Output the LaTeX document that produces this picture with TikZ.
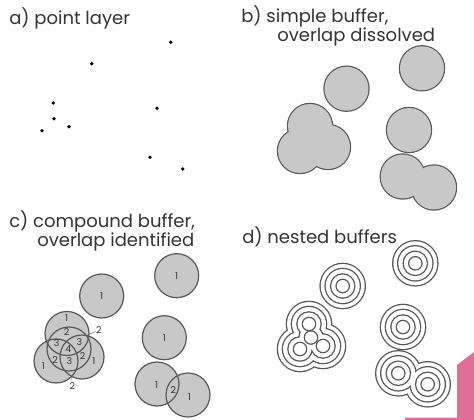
\documentclass[tikz,border=0pt]{standalone}
\usepackage{fontspec}
\setmainfont{Poppins}
\usetikzlibrary{positioning}

\definecolor{bufgray}{RGB}{200,200,200}
\definecolor{bufline}{RGB}{88,88,88}
\definecolor{cornerpink}{RGB}{222,112,152}

\def\ptsA{170.7/42.3, 91.7/63.7, 53.3/103, 54/118.7, 69/126.7, 42/130.7, 157/108.3, 150/157.3, 182.7/169}
\def\ptsB{422/68.3, 346.5/88.7, 409/130, 402.7/176.5, 434/187.5, 310/126, 312/139.5, 300/151, 328/147}
\def\ptsC{176.7/275.7, 101.7/296, 164.3/337.7, 157/384, 188/395, 67/333.5, 69/349, 56/361, 82/357}
\def\ptsD{415.3/263.3, 342.7/286, 403/327, 398.3/373.3, 427.7/384.3, 309/324, 311/337.5, 300/349, 323/346}

\begin{document}
\begin{tikzpicture}[x=1pt, y=-1pt, semithick]

    \tikzstyle{heading} = [anchor=base west, inner sep=0pt, align=left, font=\fontsize{18}{16.7}\selectfont, text=black!80]
    \tikzstyle{count} = [inner sep=0.3pt, font=\fontsize{9.5}{9.5}\selectfont, text=black!80]
    \tikzstyle{pt} = [circle, fill=black, inner sep=0pt, minimum size=3.8pt]
    \tikzstyle{rim} = [draw=bufline, line width=1.2pt]

    \useasboundingbox (0,0) rectangle (474,420);

    % a) points
    \node (titlea) [heading] at (9,25) {a) point layer};
    \foreach \x/\y [count=\i] in \ptsA
        \node (pt\i) [pt] at (\x,\y) {};

    % b) outline first, fill on top -> dissolved
    \node (titleb) [heading] at (241,41.7) {b) simple buffer,\\\hspace*{36pt}overlap dissolved};
    \foreach \x/\y in \ptsB
        \draw[bufline, line width=2.4pt] (\x,\y) circle (22pt);
    \foreach \x/\y in \ptsB
        \fill[bufgray] (\x,\y) circle (22pt);

    % c) every circle kept
    \node (titlec) [heading] at (9,246.7) {c) compound buffer,\\\hspace*{28pt}overlap identified};
    \foreach \x/\y in \ptsC
        \fill[bufgray] (\x,\y) circle (22pt);
    \foreach \x/\y in \ptsC
        \draw[rim] (\x,\y) circle (22pt);

    \node (one1) [count] at (176.7,275.7) {1};
    \node (one2) [count] at (101.7,296)   {1};
    \node (one3) [count] at (164.3,337.7) {1};
    \node (one4) [count] at (156.7,385)   {1};
    \node (one5) [count] at (189.3,397.3) {1};
    \node (two1) [count] at (173.3,390)   {2};

    \node (one6) [count] at (66.7,318)    {1};
    \node (two2) [count] at (66.7,332.3)  {2};
    \node (thr1) [count] at (56.7,343.3)  {3};
    \node (four) [count] at (68.3,349.3)  {4};
    \node (thr2) [count] at (79.3,342.3)  {3};
    \node (two3) [count] at (55,360)      {2};
    \node (thr3) [count] at (69.3,361)    {3};
    \node (two4) [count] at (82.7,356)    {2};
    \node (one7) [count] at (43.3,365.7)  {1};
    \node (one8) [count] at (94,361)      {1};
    \node (two5) [count] at (98.8,330.2)  {2};
    \node (two6) [count] at (72.3,386)    {2};

    \coordinate (lensa) at (88.8,334.4);
    \coordinate (lensb) at (71.7,376.3);
    \draw[bufline, thin] (lensa) -- (two5);
    \draw[bufline, thin] (lensb) -- (two6);

    % d) rings, largest first
    \node (titled) [heading] at (242,243.3) {d) nested buffers};
    \foreach \r in {22,17,11.5,6} {
        \foreach \x/\y in \ptsD
            \draw[bufline, line width=2.6pt] (\x,\y) circle (\r pt);
        \foreach \x/\y in \ptsD
            \fill[white] (\x,\y) circle (\r pt);
    }

    \fill[cornerpink] (457,365) -- (474,352) -- (474,420) -- (405,420) -- (405,417.5) -- (457,417.5) -- cycle;

\end{tikzpicture}
\end{document}
